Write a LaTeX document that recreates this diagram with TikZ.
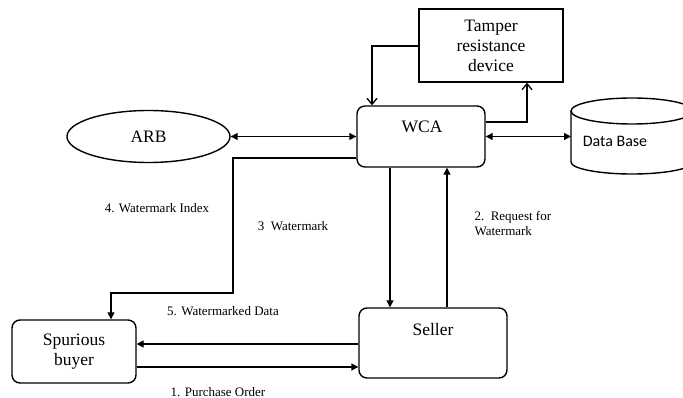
\documentclass[tikz,border=0pt]{standalone}
\usepackage{fontspec}
\setmainfont{Liberation Serif}
\newfontfamily\dbfont{Carlito}
\usetikzlibrary{arrows.meta}
\usetikzlibrary{shapes.geometric}
\usetikzlibrary{positioning}
\tikzset{box/.style = {draw, line width = 1.4pt, rounded corners = 8pt, font = \fontsize{17.5}{20}\selectfont, align = center}}
\tikzset{steplabel/.style = {font = \fontsize{13}{15}\selectfont, align = left}}
\tikzset{link/.style = {line width = 1.3pt, -{Triangle[length = 7pt, width = 7pt]}}}
\tikzset{dlink/.style = {line width = 1.3pt, {Triangle[length = 7pt, width = 7pt]}-{Triangle[length = 7pt, width = 7pt]}}}
\tikzset{olink/.style = {line width = 1.3pt, -{Straight Barb[length = 6pt, width = 10pt, line width = 1.3pt]}}}

\begin{document}
\begin{tikzpicture}[x = 1pt, y = 1pt]
      \useasboundingbox (0, 0) rectangle (683, -398);

      \node [box, rounded corners = 0, minimum width = 144, minimum height = 73] (tamper) at (491, -45.5) {Tamper\\resistance\\device};
      \node [box, minimum width = 128, minimum height = 61] (wca) at (421, -136.5) {};
      \node [font = \fontsize{17.5}{20}\selectfont] (wcaname) at (422, -127) {WCA};
      \node [box, ellipse, rounded corners = 0, minimum width = 163, minimum height = 52] (arb) at (148.5, -136.5) {ARB};
      \node [box, minimum width = 148, minimum height = 70] (seller) at (433, -343) {};
      \node [font = \fontsize{17.5}{20}\selectfont] (sellername) at (433, -330) {Seller};
      \node [box, minimum width = 124, minimum height = 63] (buyer) at (74, -351.5) {Spurious\\buyer};

      % data base drum, runs off the right edge
      \draw [line width = 1.4pt] (571, -111) -- (571, -162) arc [start angle = 180, end angle = 360, x radius = 61, y radius = 12] -- (693, -111);
      \draw [line width = 1.4pt] (632, -111) ellipse [x radius = 61, y radius = 13];
      \coordinate (dbin) at (571, -136.5);
      \node [font = \dbfont\fontsize{16}{18}\selectfont] (db) at (615, -141) {Data Base};

      \draw [olink] ([yshift = -0.5pt]tamper.west) -| ([xshift = -49pt]wca.north);
      \draw [olink] ([yshift = 14.5pt]wca.east) -| ([xshift = 36pt]tamper.south);
      \draw [dlink] (arb) -- (wca);
      \draw [dlink] (wca.east) -- (dbin);

      \coordinate (turn) at (233, -293);
      \draw [link] ([yshift = -21.5pt]wca.west) -| (turn) -| ([xshift = 37pt]buyer.north);
      \draw [link] ([xshift = -31pt]wca.south) -- ([xshift = -43pt]seller.north);
      \draw [link] ([xshift = 14pt]seller.north) -- ([xshift = 26pt]wca.south);
      \draw [link] ([yshift = -1pt]seller.west) -- ([yshift = -1pt]seller.west -| buyer.east);
      \draw [link] ([yshift = -15.5pt]buyer.east) -- ([yshift = -15.5pt]buyer.east -| seller.west);

      \node [steplabel] (windex) at (157, -208) {4. Watermark Index};
      \node [steplabel] (wmark) at (293, -226) {3\ \ Watermark};
      \node [steplabel] (wdata) at (223, -311) {5. Watermarked Data};
      \node [steplabel] (order) at (218, -392) {1. Purchase Order};
      \node [steplabel, anchor = west] (request) at (471, -223.5) {2.\ \ Request for\\Watermark};
    \end{tikzpicture}
\end{document}
